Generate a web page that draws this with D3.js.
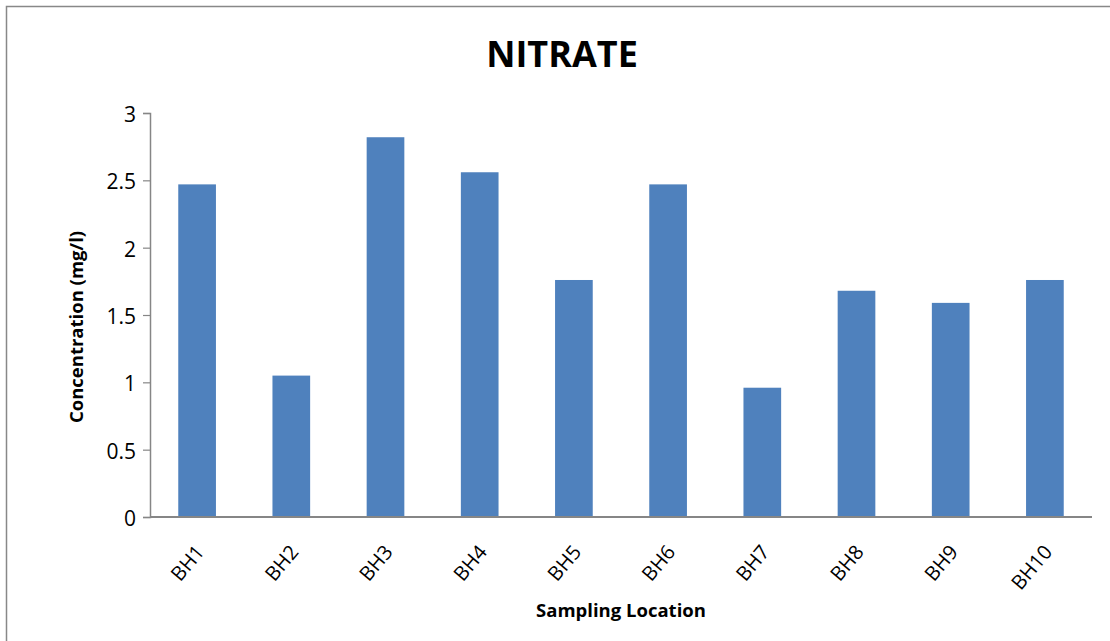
<!DOCTYPE html>
<html>
<head>
<meta charset="utf-8">
<script src="https://cdn.jsdelivr.net/npm/d3@7"></script>
<style>
  html, body { margin: 0; padding: 0; background: #fff; }
  svg { display: block; font-family: "Open Sans", "Liberation Sans", sans-serif; }
</style>
</head>
<body>
<svg id="chart" width="1110" height="641"></svg>
<script>
// Nitrate concentration at each borehole sampling location
const locations = ["BH1", "BH2", "BH3", "BH4", "BH5", "BH6", "BH7", "BH8", "BH9", "BH10"];
const nitrate = [2.47, 1.05, 2.82, 2.56, 1.76, 2.47, 0.96, 1.68, 1.59, 1.76];
const yTicks = [0, 0.5, 1, 1.5, 2, 2.5, 3];

const svg = d3.select("#chart");
const W = 1110, H = 641;
const margin = { left: 150, right: 18, top: 113, bottom: 124 };

// outer chart frame
svg.append("rect")
  .attr("x", 6.5).attr("y", 6.5)
  .attr("width", W + 20).attr("height", H + 20)
  .attr("fill", "none").attr("stroke", "#888").attr("stroke-width", 1.5);

const x = d3.scaleBand()
  .domain(locations)
  .range([margin.left, W - margin.right])
  .paddingInner(0.6).paddingOuter(0.3);

const y = d3.scaleLinear()
  .domain([0, 3])
  .range([H - margin.bottom, margin.top]);

// bars
svg.append("g").selectAll("rect")
  .data(locations)
  .join("rect")
  .attr("x", d => x(d))
  .attr("y", (d, i) => y(nitrate[i]))
  .attr("width", x.bandwidth())
  .attr("height", (d, i) => y(0) - y(nitrate[i]))
  .attr("fill", "#4F81BD");

// y axis
const yAxis = svg.append("g")
  .attr("transform", `translate(${margin.left},0)`)
  .call(d3.axisLeft(y).tickValues(yTicks).tickSize(7).tickPadding(7).tickFormat(d3.format("")));
yAxis.select(".domain").attr("stroke", "#868686").attr("stroke-width", 1.5);
yAxis.selectAll(".tick line").attr("stroke", "#868686").attr("stroke-width", 1.2);
yAxis.selectAll(".tick text").attr("font-size", 21).attr("fill", "#000")
  .attr("dy", "0.4em")
  .style("font-family", "'Open Sans', sans-serif");

// x axis line
svg.append("line")
  .attr("x1", margin.left).attr("x2", W - margin.right)
  .attr("y1", y(0)).attr("y2", y(0))
  .attr("stroke", "#868686").attr("stroke-width", 2);

// rotated category labels
svg.append("g").selectAll("text")
  .data(locations)
  .join("text")
  .attr("transform", d => `translate(${x(d) + x.bandwidth() / 2 + 3},${y(0) + 31}) rotate(-50)`)
  .attr("text-anchor", "end")
  .attr("dy", "0.35em")
  .attr("font-size", 20)
  .attr("fill", "#000")
  .text(d => d);

// title
svg.append("text")
  .attr("x", 562).attr("y", 67)
  .attr("text-anchor", "middle")
  .attr("font-size", 36).attr("font-weight", "bold")
  .text("NITRATE");

// axis titles
svg.append("text")
  .attr("x", (margin.left + W - margin.right) / 2).attr("y", 617)
  .attr("text-anchor", "middle")
  .attr("font-size", 18.5).attr("font-weight", "bold")
  .text("Sampling Location");

svg.append("text")
  .attr("transform", `translate(83,${(y(0) + y(3)) / 2 + 12}) rotate(-90)`)
  .attr("text-anchor", "middle")
  .attr("font-size", 18.5).attr("font-weight", "bold")
  .text("Concentration (mg/l)");
</script>
</body>
</html>
